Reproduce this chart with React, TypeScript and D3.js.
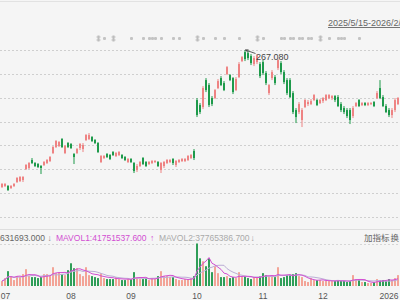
import React from 'react';
import * as d3 from 'd3';

const W = 400;
const H = 300;

const opens = [
  130, 131, 131, 129, 131, 135, 136, 137, 148, 149,
  157, 154, 153, 151, 152, 154, 156, 164, 170, 171,
  178, 164, 174, 173, 163, 164, 169, 168, 177, 178,
  180, 177, 174, 155, 159, 163, 162, 165, 161, 162,
  162, 160, 155, 158, 154, 147, 151, 159, 155, 153,
  154, 155, 155, 147, 151, 154, 155, 158, 152, 155,
  156, 156, 157, 159, 166, 217, 212, 210, 237, 232,
  219, 219, 229, 239, 234, 243, 242, 239, 227, 240,
  256, 265, 264, 261, 253, 255, 253, 255, 244, 224,
  239, 240, 249, 254, 245, 237, 237, 224, 207, 205,
  197, 210, 213, 213, 217, 217, 214, 216, 217, 219,
  219, 221, 220, 213, 209, 207, 207, 201, 211, 217,
  212, 214, 212, 213, 215, 219, 229, 220, 211, 207,
  202, 207, 213,
];
const closes = [
  133, 133, 127, 131, 133, 139, 140, 140, 152, 154,
  154, 151, 150, 149, 155, 157, 160, 170, 176, 175,
  170, 171, 170, 169, 160, 168, 173, 172, 182, 182,
  176, 174, 165, 161, 161, 160, 158, 162, 164, 165,
  159, 157, 158, 155, 146, 151, 155, 153, 151, 155,
  156, 156, 151, 154, 155, 157, 157, 154, 156, 157,
  158, 158, 161, 162, 159, 202, 205, 229, 227, 212,
  213, 227, 236, 232, 227, 250, 237, 225, 238, 253,
  260, 258, 259, 254, 259, 261, 241, 244, 234, 232,
  245, 234, 257, 245, 235, 224, 220, 205, 200, 213,
  207, 217, 215, 216, 222, 212, 217, 219, 222, 222,
  221, 217, 211, 207, 205, 201, 197, 209, 214, 211,
  214, 212, 214, 214, 211, 224, 219, 211, 205, 202,
  207, 217, 219,
];
const highs = [
  134, 134, 132, 132, 134, 140, 141, 141, 153, 155,
  159, 155, 154, 152, 156, 158, 161, 171, 177, 176,
  179, 172, 175, 174, 164, 169, 174, 174, 183, 184,
  181, 178, 175, 162, 162, 164, 163, 166, 165, 166,
  163, 161, 159, 159, 155, 153, 156, 160, 156, 156,
  157, 157, 156, 155, 156, 158, 158, 159, 157, 158,
  159, 159, 162, 163, 168, 219, 214, 231, 239, 234,
  221, 228, 238, 241, 236, 251, 243, 240, 240, 255,
  261, 267.08, 266, 263, 261, 263, 255, 257, 246, 233,
  247, 242, 258, 256, 247, 239, 239, 226, 209, 215,
  209, 218, 217, 218, 223, 218, 218, 220, 223, 223,
  222, 222, 222, 215, 211, 209, 209, 211, 215, 218,
  215, 215, 215, 215, 216, 226, 237, 222, 213, 209,
  209, 219, 220,
];
const lows = [
  129, 130, 126, 128, 130, 134, 135, 135, 147, 148,
  153, 150, 149, 143, 151, 153, 155, 163, 169, 170,
  169, 163, 169, 168, 153, 163, 167, 165, 176, 177,
  175, 173, 164, 154, 158, 159, 157, 161, 160, 161,
  158, 156, 154, 154, 144, 145, 150, 152, 150, 152,
  153, 154, 150, 144, 149, 153, 154, 152, 150, 154,
  155, 155, 156, 158, 157, 200, 203, 208, 225, 210,
  211, 218, 228, 231, 226, 242, 236, 223, 226, 239,
  255, 256, 257, 252, 251, 253, 239, 242, 232, 222,
  237, 232, 247, 243, 233, 222, 219, 203, 194, 203,
  190, 209, 211, 212, 216, 211, 213, 214, 216, 218,
  217, 215, 210, 205, 203, 199, 193, 199, 210, 210,
  211, 211, 211, 212, 210, 218, 218, 210, 204, 200,
  199, 205, 212,
];
// volume in millions of shares
const volumes = [
  30, 48, 90, 60, 36, 60, 54, 72, 102, 60,
  54, 54, 48, 54, 72, 72, 60, 114, 78, 84,
  72, 66, 96, 138, 108, 108, 72, 60, 114, 66,
  60, 54, 48, 78, 48, 42, 42, 42, 54, 42,
  36, 36, 42, 42, 84, 48, 42, 42, 48, 36,
  48, 42, 60, 90, 60, 60, 54, 54, 42, 36,
  36, 42, 42, 48, 60, 258, 168, 150, 120, 168,
  84, 120, 78, 54, 54, 60, 48, 54, 48, 84,
  54, 60, 48, 42, 54, 54, 60, 78, 66, 54,
  60, 54, 114, 48, 54, 66, 66, 72, 78, 60,
  54, 30, 24, 48, 36, 36, 36, 30, 30, 30,
  30, 30, 36, 30, 30, 24, 30, 66, 42, 36,
  24, 24, 18, 18, 24, 42, 36, 36, 30, 42,
  36, 48, 66,
];

const monthLabels = ['07', '08', '09', '10', '11', '12', '2026'];
const monthIndex = [0, 23, 43, 65, 87, 107, 129];

const markerIndex = [32, 34, 37, 43, 47, 49, 50, 51, 53, 57, 59, 65, 67, 71, 74, 79, 85, 87,
  93, 94, 96, 97, 99, 100, 102, 103, 106, 109, 112, 113, 114, 119];
const markerTall = [32, 37, 65, 85, 106];

const dateRange = '2025/5/15-2026/2/';
const volText = '631693.000';
const ma1Text = 'MAVOL1:41751537.600';
const ma2Text = 'MAVOL2:37765386.700';
const addIndicator = '加指标';
const switchText = '换';

const N = opens.length;
const FONT = "'Liberation Sans', 'Noto Sans CJK SC', Arial, sans-serif";
const UP = '#ee8383';
const DOWN = '#1e9a4b';
const VUP = '#f3a497';
const VDOWN = '#2f9e58';
const MA1C = '#d24fd2';
const MA2C = '#bcaed6';

function movingAvg(vals: number[], n: number) {
  return vals.map((_, i) => d3.mean(vals.slice(Math.max(0, i - n + 1), i + 1)) as number);
}

export default function App() {
  const x = d3.scaleBand<number>().domain(d3.range(N)).range([1, 1 + 3 * N]).padding(0);
  const priceMin = 100;
  const priceMax = d3.max(highs) as number;
  const y = d3.scaleLinear().domain([priceMin, priceMax]).range([217, 50]);
  const vMax = d3.max(volumes) as number;
  const yv = d3.scaleLinear().domain([0, vMax]).range([286, 243.5]);

  const gridVals = d3.range(8).map((k) => priceMin + (k * (priceMax - priceMin)) / 7);

  const ma1 = movingAvg(volumes, 5);
  const ma2 = movingAvg(volumes, 10);
  const line = d3
    .line<number>()
    .x((_, i) => (x(i) as number) + 1)
    .y((d) => yv(d))
    .curve(d3.curveLinear);

  const maxIdx = d3.maxIndex(highs);
  const mx = (x(maxIdx) as number) + 1.5;
  const my = y(highs[maxIdx]);

  return (
    <svg
      width={W}
      height={H}
      style={{ position: 'absolute', left: 0, top: 0, background: '#f5f5f5' }}
      fontFamily={FONT}
    >
      <rect x={0} y={0} width={W} height={H} fill="#f5f5f5" />
      <line x1={0} x2={W} y1={1.5} y2={1.5} stroke="#e2e2e2" />

      {/* date range */}
      <text x={328} y={26} fontSize={9} fill="#666" textDecoration="underline">
        {dateRange}
      </text>

      {/* event markers */}
      {markerIndex.map((i) => {
        const cx = (x(i) as number);
        const tall = markerTall.includes(i);
        return tall ? (
          <g key={'m' + i} fill="#bdbdbd">
            <rect x={cx + 0.5} y={35.5} width={2} height={6} />
            <rect x={cx - 0.5} y={36.5} width={4} height={1} />
            <rect x={cx - 0.5} y={39.5} width={4} height={1} />
          </g>
        ) : (
          <rect key={'m' + i} x={cx} y={37} width={3} height={3} rx={1} fill="#c4c4c4" />
        );
      })}

      {/* gridlines */}
      {gridVals.map((v, k) => (
        <line
          key={'g' + k}
          x1={0}
          x2={W}
          y1={Math.round(y(v)) + 0.5}
          y2={Math.round(y(v)) + 0.5}
          stroke="#cfcfcf"
          strokeDasharray="2,2"
        />
      ))}

      {/* candles */}
      {opens.map((o, i) => {
        const c = closes[i];
        const up = c >= o;
        const col = up ? UP : DOWN;
        const bx = x(i) as number;
        const top = y(Math.max(o, c));
        const bot = y(Math.min(o, c));
        return (
          <g key={'c' + i}>
            <rect x={bx + 0.5} y={y(highs[i])} width={1} height={Math.max(1, y(lows[i]) - y(highs[i]))} fill={col} />
            <rect x={bx} y={top} width={2} height={Math.max(1, bot - top)} fill={col} />
          </g>
        );
      })}

      {/* max annotation */}
      <path d={`M${mx},${my} L${mx + 10},${my + 3.5}`} stroke="#333" strokeWidth={0.8} fill="none" />
      <path d={`M${mx},${my} l3,-0.2 M${mx},${my} l2.2,2`} stroke="#333" strokeWidth={0.8} fill="none" />
      <text x={mx + 10.5} y={my + 10} fontSize={9} fill="#444">
        {highs[maxIdx].toFixed(3)}
      </text>

      {/* separator */}
      <line x1={0} x2={W} y1={229.5} y2={229.5} stroke="#dedede" />

      {/* volume legend */}
      <g fontSize={8.5}>
        <text x={0} y={240.5} fill="#666">{volText}</text>
        <text x={47.5} y={240.5} fill="#888">↓</text>
        <text x={56} y={240.5} fill={MA1C}>{ma1Text}</text>
        <text x={150} y={240.5} fill={MA1C}>↑</text>
        <text x={159} y={240.5} fill="#aaa">{ma2Text}</text>
        <text x={250.5} y={240.5} fill="#999">↓</text>
        <text x={364} y={240.5} fill="#666">{addIndicator}</text>
        <text x={390.5} y={240.5} fill="#666">{switchText}</text>
      </g>
      <line x1={0} x2={W} y1={244.5} y2={244.5} stroke="#d6d6d6" strokeDasharray="2,2" />

      {/* volume bars */}
      {volumes.map((v, i) => {
        const up = closes[i] >= opens[i];
        return (
          <rect
            key={'v' + i}
            x={x(i) as number}
            y={yv(v)}
            width={2}
            height={yv(0) - yv(v)}
            fill={up ? VUP : VDOWN}
          />
        );
      })}
      <path d={line(ma2) || ''} stroke={MA2C} strokeWidth={1} fill="none" />
      <path d={line(ma1) || ''} stroke={MA1C} strokeWidth={1} fill="none" />

      {/* month labels */}
      {monthLabels.map((m, k) => (
        <text
          key={'x' + k}
          x={Math.max(5.5, (x(monthIndex[k]) as number) + 1)}
          y={299}
          fontSize={8.5}
          fill="#555"
          textAnchor="middle"
        >
          {m}
        </text>
      ))}
    </svg>
  );
}
